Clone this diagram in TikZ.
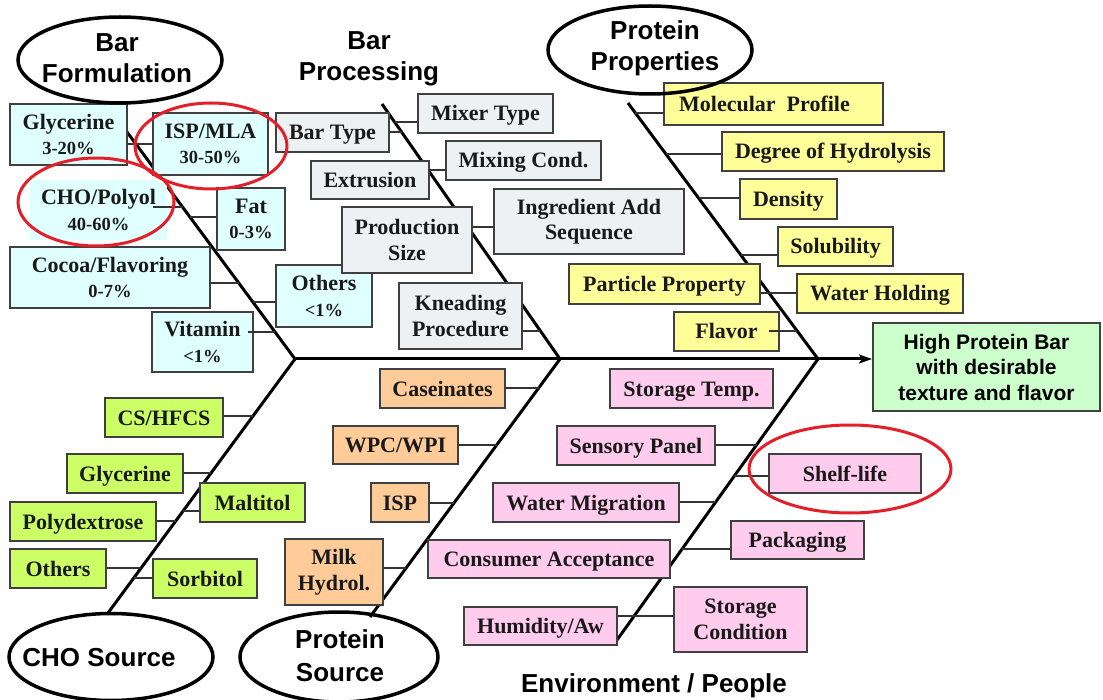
\documentclass[tikz,border=0pt]{standalone}
\usepackage{fontspec}
\setmainfont{Liberation Serif}
\setsansfont{Liberation Sans}
\usetikzlibrary{shapes.geometric,arrows.meta,calc}
\definecolor{cyanF}{HTML}{E0FFFF}
\definecolor{greyF}{HTML}{EEF1F1}
\definecolor{yelF}{HTML}{FFFF99}
\definecolor{grnF}{HTML}{CCFF66}
\definecolor{orgF}{HTML}{FFCC99}
\definecolor{pinkF}{HTML}{FFCCEE}
\definecolor{resF}{HTML}{CCFFCC}
\definecolor{redE}{HTML}{E3202A}
\newcommand\pctfont{\fontsize{18.5}{22}\selectfont}
\newcommand\hdfont{\sffamily\bfseries\fontsize{26}{31}\selectfont}
\tikzset{
  bx/.style={draw=black!75, line width=1.2pt, inner sep=0pt, align=center,
    font=\bfseries\fontsize{22}{25.5}\selectfont, text=black!90},
  sl/.style={text height=16pt, text depth=1pt},
  cy/.style={bx, fill=cyanF},
  gy/.style={bx, fill=greyF},
  yl/.style={bx, fill=yelF},
  gn/.style={bx, fill=grnF},
  og/.style={bx, fill=orgF},
  pk/.style={bx, fill=pinkF},
  hd/.style={font=\hdfont, align=center, inner sep=0pt},
  oval/.style={draw, ellipse, line width=3.5pt, inner sep=0pt},
  redov/.style={draw=redE, ellipse, line width=3pt, inner sep=0pt},
  bone/.style={line width=3pt},
  con/.style={line width=1.3pt, draw=black!80},
}
\begin{document}
\begin{tikzpicture}[x=1pt,y=-1pt]
\fill[white] (0,0) rectangle (1103,700);
\useasboundingbox (0,0) rectangle (1103,700);

% ---- skeleton ----
\coordinate (v1) at (295,359);
\coordinate (v2) at (560,359);
\coordinate (v3) at (818,359);
\coordinate (b1) at (127,132);
\coordinate (b2) at (382,104);
\coordinate (b3) at (628,103);
\coordinate (b4) at (108,613);
\coordinate (b5) at (370,617);
\coordinate (b6) at (617,640);
\coordinate (tip) at (872,359);
\draw[bone] (b1) -- (v1) -- (b4);
\draw[bone] (b2) -- (v2) -- (b5);
\draw[bone] (b3) -- (v3) -- (b6);
\draw[bone, -{Stealth[length=13pt,width=9pt,inset=3pt]}] (v1) -- (tip);

% ---- result ----
\node[draw=black!75, line width=1.2pt, fill=resF, minimum width=227pt, minimum height=88pt,
      font=\sffamily\bfseries\fontsize{21}{25.5}\selectfont, align=center, inner sep=0pt]
  (res) at (986.5,367) {High Protein Bar\\with desirable\\texture and flavor};

% ---- Bar Formulation ----
\node[cy, minimum width=117pt, minimum height=61pt] (glyc) at (68.5,134.5) {Glycerine\\{\pctfont 3-20\%}};
\node[cy, minimum width=115pt, minimum height=62pt] (isp) at (210.5,144) {ISP/MLA\\{\pctfont 30-50\%}};
\node[cy, draw=none, minimum width=137pt, minimum height=60pt] (cho) at (98.5,210) {CHO/Polyol\\{\pctfont 40-60\%}};
\node[cy, minimum width=68pt, minimum height=62pt] (fat) at (251,219) {Fat\\{\pctfont 0-3\%}};
\node[cy, minimum width=200pt, minimum height=61pt] (cocoa) at (110,277.5) {Cocoa/Flavoring\\{\pctfont 0-7\%}};
\node[cy, minimum width=96pt, minimum height=62pt] (oth1) at (324,296) {Others\\{\pctfont <1\%}};
\node[cy, minimum width=101pt, minimum height=60pt] (vit) at (202.5,342) {Vitamin\\{\pctfont <1\%}};

% ---- Bar Processing ----
\node[gy, sl, minimum width=113pt, minimum height=39pt] (bartype) at (332.5,132.5) {Bar Type};
\node[gy, sl, minimum width=135pt, minimum height=39pt] (mixer) at (485.5,113.5) {Mixer Type};
\node[gy, sl, minimum width=155pt, minimum height=39pt] (mixcond) at (523.5,160.5) {Mixing Cond.};
\node[gy, sl, minimum width=118pt, minimum height=38pt] (extr) at (370,180) {Extrusion};
\node[gy, minimum width=130pt, minimum height=66pt] (prod) at (407,240) {Production\\Size};
\node[gy, minimum width=190pt, minimum height=65pt] (ingr) at (589,221.5) {Ingredient Add\\Sequence};
\node[gy, minimum width=123pt, minimum height=66pt] (knead) at (460.5,316) {Kneading\\Procedure};

% ---- Protein Properties ----
\node[yl, sl, minimum width=219pt, minimum height=42pt] (molp) at (773.5,104) {Molecular\ \ Profile\hspace*{18pt}};
\node[yl, sl, minimum width=222pt, minimum height=39pt] (hydro) at (833,151.5) {Degree of Hydrolysis};
\node[yl, sl, minimum width=97pt, minimum height=40pt] (dens) at (788.5,199) {Density};
\node[yl, sl, minimum width=115pt, minimum height=39pt] (solub) at (835.5,246.5) {Solubility};
\node[yl, sl, minimum width=191pt, minimum height=40pt] (part) at (664.5,284) {Particle Property};
\node[yl, sl, minimum width=166pt, minimum height=39pt] (whold) at (880,293.5) {Water Holding};
\node[yl, sl, minimum width=105pt, minimum height=39pt] (flav) at (726.5,331.5) {Flavor};

% ---- CHO Source ----
\node[gn, sl, minimum width=118pt, minimum height=39pt] (cshf) at (164,417.5) {CS/HFCS};
\node[gn, sl, minimum width=116pt, minimum height=39pt] (glyc2) at (125,473.5) {Glycerine};
\node[gn, sl, minimum width=105pt, minimum height=39pt] (malt) at (252.5,502.5) {Maltitol};
\node[gn, sl, minimum width=146pt, minimum height=39pt] (polyd) at (83,521.5) {Polydextrose};
\node[gn, sl, minimum width=96pt, minimum height=39pt] (oth2) at (58,568.5) {Others};
\node[gn, sl, minimum width=104pt, minimum height=39pt] (sorb) at (205,578.5) {Sorbitol};

% ---- Protein Source ----
\node[og, sl, minimum width=125pt, minimum height=39pt] (casein) at (442.5,388.5) {Caseinates};
\node[og, sl, minimum width=125pt, minimum height=38pt] (wpc) at (395.5,445) {WPC/WPI};
\node[og, sl, minimum width=58pt, minimum height=39pt] (isp2) at (400,502.5) {ISP};
\node[og, minimum width=98pt, minimum height=66pt] (milk) at (334,572) {Milk\\Hydrol.};

% ---- Environment / People ----
\node[pk, sl, minimum width=163pt, minimum height=39pt] (stemp) at (691.5,388.5) {Storage Temp.};
\node[pk, sl, minimum width=158pt, minimum height=39pt] (sens) at (636,445.5) {Sensory Panel};
\node[pk, sl, minimum width=152pt, minimum height=39pt] (shelf) at (845,473.5) {Shelf-life};
\node[pk, sl, minimum width=186pt, minimum height=39pt] (wmig) at (586,502.5) {Water Migration};
\node[pk, sl, minimum width=133pt, minimum height=38pt] (pack) at (797.5,540) {Packaging};
\node[pk, sl, minimum width=242pt, minimum height=38pt] (cons) at (549,559) {Consumer Acceptance};
\node[pk, sl, minimum width=153pt, minimum height=38pt] (humid) at (540.5,626) {Humidity/Aw};
\node[pk, minimum width=133pt, minimum height=65pt] (scond) at (740.5,619.5) {Storage\\Condition};

% ---- connectors ----
\coordinate (kcho) at (182.5,207);
\coordinate (kfat) at (190,217);
\coordinate (kcoc) at (238.7,283);
\coordinate (koth) at (252.8,302);
\coordinate (kvit) at (275,332);
\draw[con] (glyc.east |- isp.west) -- (isp.west);
\draw[con] ([xshift=-15pt]cho.east |- kcho) -- (kcho);
\draw[con] (kfat) -- (fat.west |- kfat);
\draw[con] (cocoa.east |- kcoc) -- (kcoc);
\draw[con] (koth) -- (oth1.west |- koth);
\draw[con] ([xshift=-6pt]vit.east |- kvit) -- (kvit);

\coordinate (kbt) at (401.5,132);
\coordinate (kmx) at (394.6,122);
\coordinate (kmc) at (428,170);
\coordinate (kps) at (480,227);
\coordinate (kkn) at (540.4,331);
\draw[con] (bartype.east |- kbt) -- (kbt);
\draw[con] (kmx) -- (mixer.west |- kmx);
\draw[con] (kmc) -- (mixcond.west |- kmc);
\draw[con] (prod.east |- kps) -- (ingr.west |- kps);
\draw[con] (knead.east |- kkn) -- (kkn);

\coordinate (kmp) at (635.4,113);
\coordinate (khy) at (665.8,154);
\coordinate (kde) at (698.5,198);
\coordinate (kso) at (740.8,255);
\coordinate (kpp) at (780,293);
\coordinate (kfl) at (797.2,331);
\draw[con] (kmp) -- (molp.west |- kmp);
\draw[con] (khy) -- (hydro.west |- khy);
\draw[con] (kde) -- (dens.west |- kde);
\draw[con] (kso) -- (solub.west |- kso);
\draw[con] (part.east |- kpp) -- (whold.west |- kpp);
\draw[con] ([xshift=-11pt]flav.east |- kfl) -- (kfl);

\coordinate (kcs) at (253,416);
\coordinate (kgl) at (211.1,473);
\coordinate (kma) at (183.1,511);
\coordinate (kpo) at (175.8,521);
\coordinate (kot) at (141.2,568);
\coordinate (ksb) at (133.8,578);
\draw[con] (cshf.east |- kcs) -- (kcs);
\draw[con] (glyc2.east |- kgl) -- (kgl);
\draw[con] (kma) -- (malt.west |- kma);
\draw[con] (polyd.east |- kpo) -- (kpo);
\draw[con] (oth2.east |- kot) -- (kot);
\draw[con] (ksb) -- (sorb.west |- ksb);

\coordinate (kca) at (538.7,388);
\coordinate (kwp) at (496.7,445);
\coordinate (kis) at (454,503);
\coordinate (kmi) at (406.2,568);
\draw[con] (casein.east |- kca) -- (kca);
\draw[con] (wpc.east |- kwp) -- (kwp);
\draw[con] (isp2.east |- kis) -- (kis);
\draw[con] (milk.east |- kmi) -- (kmi);

\coordinate (kse) at (756.5,445);
\coordinate (ksh) at (734.3,476);
\coordinate (kwm) at (715.8,502);
\coordinate (kpa) at (682.2,549);
\coordinate (khu) at (640,616);
\draw[con] (sens.east |- kse) -- (kse);
\draw[con] (ksh) -- (shelf.west |- ksh);
\draw[con] (wmig.east |- kwm) -- (kwm);
\draw[con] (kpa) -- (pack.west |- kpa);
\draw[con] (humid.east |- khu) -- (scond.west |- khu);

% ---- headers ----
\node[oval, minimum width=204pt, minimum height=86pt] (eBF) at (120,60) {};
\node[hd] (tBF) at (117,58) {Bar\\Formulation};
\node[hd] (tBP) at (369,58.5) {Bar\\Processing};
\node[oval, minimum width=204pt, minimum height=88pt] (ePP) at (650,50) {};
\node[hd] (tPP) at (655,48.5) {Protein\\Properties};
\node[oval, minimum width=204pt, minimum height=87pt] (eCS) at (111,657) {};
\node[hd] (tCS) at (99,658) {CHO Source};
\node[oval, minimum width=198pt, minimum height=90pt] (ePS) at (339,657) {};
\node[hd, font=\sffamily\bfseries\fontsize{26}{33}\selectfont] (tPS) at (340,656) {Protein\\Source};
\node[hd] (tEP) at (654,686) {Environment / People};

% ---- red highlight ovals ----
\node[redov, minimum width=152pt, minimum height=86pt] (rISP) at (211,146) {};
\node[redov, minimum width=156pt, minimum height=88pt] (rCHO) at (96,202) {};
\node[redov, minimum width=202pt, minimum height=88pt] (rSL) at (850,469) {};
\end{tikzpicture}
\end{document}
